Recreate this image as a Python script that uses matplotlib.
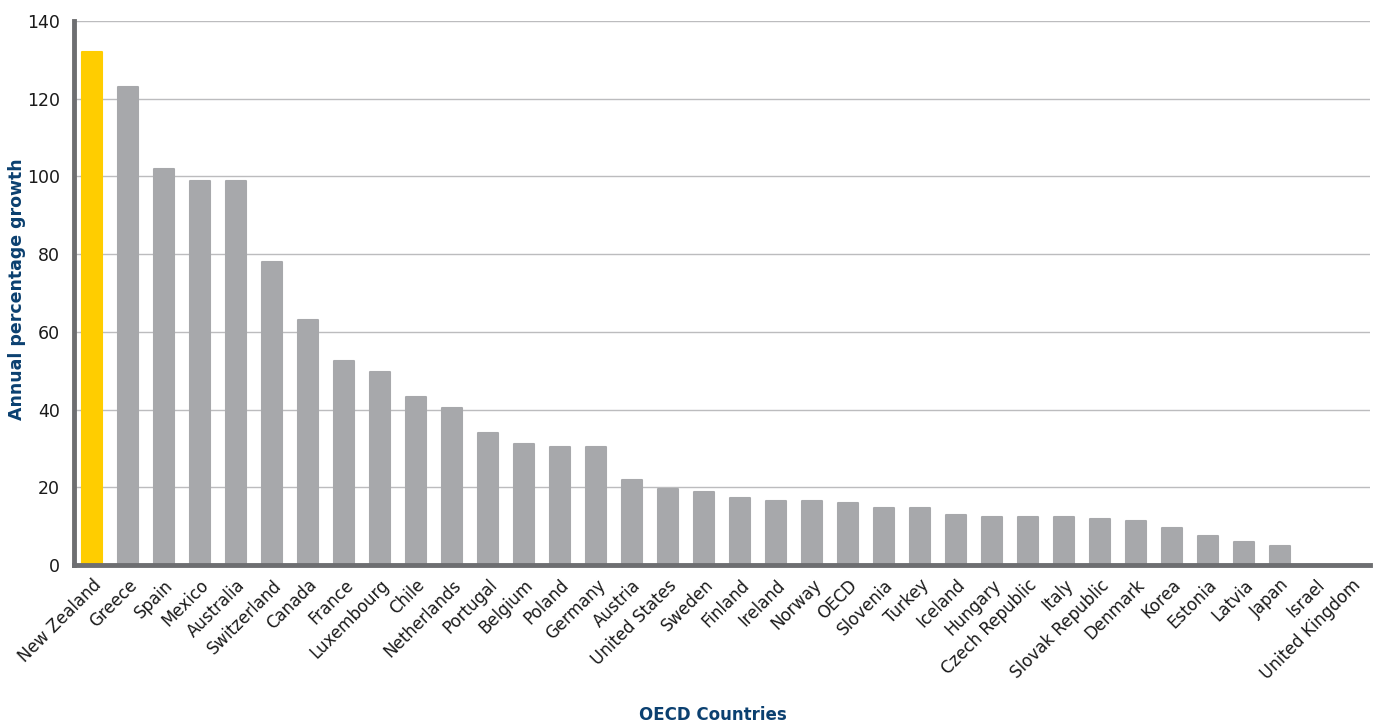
import matplotlib.pyplot as plt
from matplotlib.ticker import MultipleLocator

countries = ['New Zealand', 'Greece', 'Spain', 'Mexico', 'Australia', 'Switzerland',
             'Canada', 'France', 'Luxembourg', 'Chile', 'Netherlands', 'Portugal',
             'Belgium', 'Poland', 'Germany', 'Austria', 'United States', 'Sweden',
             'Finland', 'Ireland', 'Norway', 'OECD', 'Slovenia', 'Turkey', 'Iceland',
             'Hungary', 'Czech Republic', 'Italy', 'Slovak Republic', 'Denmark',
             'Korea', 'Estonia', 'Latvia', 'Japan', 'Israel', 'United Kingdom']
growth = [132.0, 123.0, 101.8, 98.8, 98.8, 78.0,
          63.0, 52.5, 49.6, 43.2, 40.3, 34.0,
          31.2, 30.3, 30.3, 21.9, 19.6, 18.8,
          17.3, 16.6, 16.6, 16.0, 14.7, 14.7, 12.9,
          12.3, 12.3, 12.3, 11.8, 11.3,
          9.4, 7.4, 5.9, 4.9, 0.0, 0.0]
highlight = 'New Zealand'

yellow = '#ffcd00'
grey = '#a7a8ab'
spine_c = '#6d6e71'
blue = '#0b4070'

plt.rcParams['font.family'] = ['DejaVu Sans']

fig = plt.figure(figsize=(13.76, 7.24), dpi=100)
ax = fig.add_axes([0.0538, 0.2196, 0.9418, 0.7514])

colors = [yellow if c == highlight else grey for c in countries]
x = list(range(len(countries)))
bars = ax.bar(x, growth, width=0.54, color=colors, edgecolor=colors,
              linewidth=1.5, zorder=2)
for b in bars:
    b.set_joinstyle('round')

ax.set_xlim(-0.5, len(countries) - 0.5)
ax.set_ylim(0, 140)
ax.yaxis.set_major_locator(MultipleLocator(20))
ax.grid(axis='y', color='#bcbcbe', linewidth=1, zorder=0)
ax.set_axisbelow(True)

for s in ['top', 'right']:
    ax.spines[s].set_visible(False)
for s in ['left', 'bottom']:
    ax.spines[s].set_color(spine_c)
    ax.spines[s].set_linewidth(3.5)
    ax.spines[s].set_zorder(3)

ax.set_xticks(x)
ax.set_xticklabels(countries, rotation=45, ha='right', rotation_mode='anchor',
                   fontsize=12, color='#1a1a1a')
ax.tick_params(axis='x', length=0, pad=8)
ax.tick_params(axis='y', length=0, pad=10, labelsize=12.5, labelcolor='#1a1a1a')

fig.text(0.012, 0.6, 'Annual percentage growth', rotation=90, ha='center',
         va='center', fontsize=12.5, fontweight='bold', color=blue)
fig.text(0.518, 0.0124, 'OECD Countries', ha='center', va='center',
         fontsize=12, fontweight='bold', color=blue)

fig.savefig('out.png', dpi=100)
